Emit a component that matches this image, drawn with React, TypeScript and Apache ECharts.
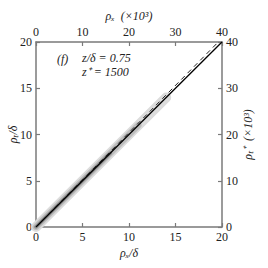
import React, { useEffect, useRef } from "react";
import * as echarts from "echarts";

const bottomTicks = [0, 20];
const topTicks = [0, 40];
const solidLine: number[][] = [[0, 0], [20, 20]];
const dashedLine: number[][] = [[0, 0], [19.6, 20]];
const bandOuter: number[][] = [[0, 0], [14, 14]];
const bandMid: number[][] = [[0, 0], [11, 11]];
const bandInner: number[][] = [[0, 0], [8, 8]];
const annoLabel = "(f)";
const annoLine1 = "z/δ = 0.75";
const annoLine2 = "z⁺ = 1500";

const FONT = "Liberation Serif";
const AXC = "#7a7a7a";

export default function App() {
  const ref = useRef<HTMLDivElement>(null);
  useEffect(() => {
    const chart = echarts.init(ref.current!, undefined, { renderer: "svg" });
    const axisCommon = {
      type: "value" as const,
      axisLine: { show: true, onZero: false, lineStyle: { color: AXC, width: 1.5 } },
      axisTick: { show: true, inside: true, length: 4, lineStyle: { color: AXC, width: 1.2 } },
      splitLine: { show: false },
      axisLabel: { color: "#222", fontFamily: FONT, fontSize: 12, margin: 4 },
      nameTextStyle: { color: "#222", fontFamily: FONT, fontSize: 12, fontStyle: "italic" },
      nameLocation: "middle" as const,
      nameMoveOverlap: false,
    };
    const textStyle = { fontFamily: FONT, fontSize: 12, fontStyle: "italic", fill: "#222" };
    chart.setOption({
      animation: false,
      backgroundColor: "#fff",
      grid: { left: 36, right: 46, top: 42, bottom: 41, containLabel: false, outerBoundsMode: "none" },
      xAxis: [
        { ...axisCommon, position: "bottom", min: bottomTicks[0], max: bottomTicks[1], interval: 5, name: "ρₓ/δ", nameGap: 20 },
        { ...axisCommon, position: "top", min: topTicks[0], max: topTicks[1], interval: 10, name: "ρₓ  (×10³)", nameGap: 20 },
      ],
      yAxis: [
        { ...axisCommon, position: "left", min: bottomTicks[0], max: bottomTicks[1], interval: 5, name: "ρₜ/δ", nameGap: 17, nameRotate: 90 },
        { ...axisCommon, position: "right", min: topTicks[0], max: topTicks[1], interval: 10, name: "ρₜ⁺  (×10³)", nameGap: 20, nameRotate: 90 },
      ],
      series: [
        { type: "line", data: bandOuter, symbol: "none", lineStyle: { color: "#dcdcdc", width: 10, cap: "round" }, z: 1 },
        { type: "line", data: bandMid, symbol: "none", lineStyle: { color: "#bdbdbd", width: 6.5, cap: "round" }, z: 2 },
        { type: "line", data: bandInner, symbol: "none", lineStyle: { color: "#8c8c8c", width: 3.5, cap: "round" }, z: 3 },
        { type: "line", data: dashedLine, symbol: "none", lineStyle: { color: "#222", width: 1, type: [5, 4] }, z: 4 },
        { type: "line", data: solidLine, symbol: "none", lineStyle: { color: "#000", width: 1.3 }, z: 5 },
      ],
      graphic: [
        { type: "text", left: 57, top: 53, style: { text: annoLabel, ...textStyle } },
        { type: "text", left: 82, top: 52, style: { text: annoLine1, ...textStyle } },
        { type: "text", left: 82, top: 66, style: { text: annoLine2, ...textStyle } },
      ],
    });
    return () => chart.dispose();
  }, []);
  return <div ref={ref} style={{ width: 268, height: 268, position: "absolute", left: 0, top: 0 }} />;
}
